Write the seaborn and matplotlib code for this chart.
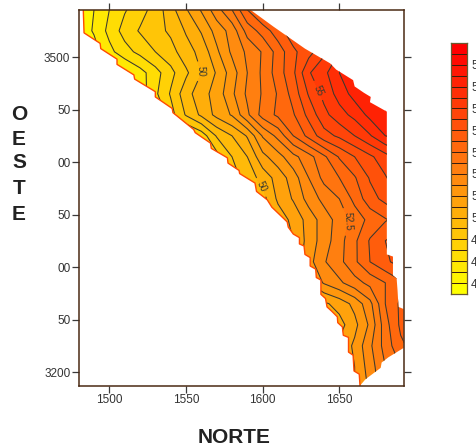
import numpy as np
import matplotlib
matplotlib.use('Agg')
import matplotlib.pyplot as plt
import seaborn as sns

sns.set_theme(style='ticks')
plt.rcParams['font.family'] = ['Liberation Sans', 'DejaVu Sans']

# survey grid, values
norte = [1480, 1490, 1500, 1510, 1520, 1530, 1540, 1550, 1560, 1570, 1580, 1590,
         1600, 1610, 1620, 1630, 1640, 1650, 1660, 1670, 1680, 1690, 1700]
oeste = [3545, 3525, 3505, 3485, 3465, 3445, 3425, 3405, 3385, 3365,
         3345, 3325, 3305, 3285, 3265, 3245, 3225, 3205, 3185]
valores = [
    [47.2, 47.5, 48, 48.45, 48.8, 49.2, 49.8, 50.45, 51.05, 51.8, 52.5, 53.5, 54.2, 54.9, 55.5, 56, 56.4, 56.8, 57, 57.2, 57.4, 57.6, 57.8],
    [47.2, 47.55, 48.15, 48.7, 49.05, 49.3, 49.6, 50.05, 50.55, 51.2, 51.7, 52.7, 53.2, 53.8, 54.3, 54.9, 55.5, 56, 56.5, 56.9, 57.2, 57.5, 57.7],
    [47, 47.3, 47.85, 48.3, 48.65, 49, 49.3, 49.8, 50.15, 50.9, 51.6, 52.1, 52.55, 53.2, 53.9, 54.3, 54.9, 55.5, 56, 56.4, 56.8, 57.2, 57.4],
    [46.8, 47, 47.2, 47.4, 47.8, 48.3, 48.85, 49.4, 50, 50.55, 51.25, 52, 52.6, 53.25, 53.9, 54.95, 55.35, 56, 56.4, 56.7, 57, 57.2, 57.4],
    [46.8, 47, 47.2, 47.4, 47.7, 48.4, 49.05, 49.8, 50.3, 50.7, 51.4, 52.1, 52.55, 53.05, 53.7, 54.55, 55.15, 55.7, 56.2, 56.5, 56.8, 57, 57.2],
    [46.8, 47, 47.2, 47.4, 47.6, 47.9, 48.8, 49.55, 50.1, 50.65, 51.05, 51.9, 52.7, 53.1, 53.45, 54.15, 54.85, 55.3, 55.65, 56.15, 56.4, 56.6, 56.8],
    [46.8, 47, 47.2, 47.4, 47.6, 47.8, 48, 48.3, 48.7, 49.55, 50, 50.55, 51.55, 52.15, 53, 53.65, 54.3, 54.6, 55, 55.45, 56, 56.2, 56.4],
    [47, 47.2, 47.4, 47.6, 47.7, 47.8, 48, 48.2, 48.3, 48.8, 49.5, 50, 50.85, 51.3, 51.85, 52.3, 52.9, 53.55, 54, 54.4, 54.8, 55.2, 55.5],
    [47, 47.2, 47.4, 47.6, 47.8, 48, 48.2, 48.3, 48.5, 48.9, 49.3, 49.7, 50.2, 50.7, 51.25, 52, 52.65, 53, 53.45, 54.05, 54.45, 54.9, 55.2],
    [47, 47.2, 47.4, 47.6, 47.8, 48, 48.2, 48.4, 48.7, 49, 49.3, 49.5, 49.8, 50.6, 51.05, 51.7, 52.15, 52.5, 53.15, 53.8, 54.15, 54.65, 54.9],
    [47.2, 47.4, 47.6, 47.8, 48, 48.2, 48.4, 48.6, 48.8, 49.1, 49.4, 49.6, 49.9, 50.2, 50.65, 51.2, 51.75, 52.2, 52.7, 53.15, 53.45, 53.75, 54],
    [47.4, 47.6, 47.8, 48, 48.2, 48.4, 48.6, 48.8, 49, 49.2, 49.5, 49.8, 50, 50.2, 50.5, 51.2, 51.75, 52.3, 52.9, 53.55, 54, 54.3, 54.5],
    [47.6, 47.8, 48, 48.2, 48.4, 48.6, 48.8, 49, 49.2, 49.4, 49.6, 49.8, 50.1, 50.3, 50.6, 51.3, 51.95, 52.35, 52.9, 53.5, 53.9, 54.2, 54.4],
    [47.8, 48, 48.2, 48.4, 48.6, 48.8, 49, 49.2, 49.4, 49.6, 49.8, 50, 50.2, 50.4, 50.5, 51, 51.55, 51.9, 52.3, 52.65, 53, 53.4, 53.7],
    [48, 48.2, 48.4, 48.6, 48.8, 49, 49.2, 49.4, 49.6, 49.8, 50, 50.1, 50.15, 50.2, 50.25, 50.3, 50.4, 50.7, 51.15, 51.85, 53, 53.6, 53.8],
    [48.2, 48.4, 48.6, 48.8, 49, 49.2, 49.4, 49.6, 49.8, 49.9, 50, 50, 50.05, 50.1, 50.1, 50.15, 50.2, 50.3, 50.85, 51.6, 52.8, 53.6, 53.8],
    [48.4, 48.6, 48.8, 49, 49.2, 49.4, 49.6, 49.8, 49.9, 50, 50.1, 50.2, 50.2, 50.3, 50.3, 50.4, 50.5, 50.6, 51.1, 51.9, 52.7, 53.4, 53.7],
    [48.4, 48.6, 48.8, 49, 49.2, 49.4, 49.6, 49.8, 49.9, 50, 50.1, 50.2, 50.2, 50.3, 50.3, 50.4, 50.45, 50.5, 51, 51.75, 52.5, 53, 53.2],
    [48.4, 48.6, 48.8, 49, 49.2, 49.4, 49.6, 49.8, 49.9, 50, 50.1, 50.2, 50.2, 50.3, 50.3, 50.4, 50.45, 50.5, 51, 51.6, 52.4, 53, 53.2],
]

# limit of the surveyed area (north, west), the SW side comes first
borde_norte = [1483, 1483.5, 1494, 1494.4, 1505, 1505, 1516, 1516.5, 1530, 1530, 1541, 1541.5,
               1555, 1556, 1566, 1566.5, 1577, 1577.4, 1584.6, 1585, 1595, 1596, 1603, 1606,
               1616, 1616.7, 1620, 1624, 1624, 1627, 1627.6, 1631, 1631, 1634.6, 1635, 1638,
               1638, 1641, 1642, 1645, 1648.7, 1649, 1652, 1652.6, 1656, 1656, 1659, 1659.6,
               1663, 1663.5,
               1667, 1677, 1677.6, 1682, 1692, 1692, 1688.6, 1688, 1687.4, 1685, 1685, 1681,
               1681, 1670, 1670.5, 1666, 1660, 1659, 1648, 1644, 1627.6, 1607, 1592]
borde_oeste = [3545, 3523, 3513, 3508, 3498, 3493, 3483, 3479, 3467, 3462, 3451, 3447,
               3431, 3428, 3418, 3413, 3404, 3399, 3392, 3389, 3380, 3372, 3364, 3357,
               3343, 3338, 3331.4, 3328, 3322, 3320, 3312, 3309, 3301, 3298, 3290, 3287.6,
               3274, 3270, 3262, 3258, 3252.6, 3247, 3243, 3235, 3233, 3219, 3216, 3201,
               3198, 3187,
               3193, 3204, 3209, 3214, 3223, 3260, 3262, 3277.5, 3289, 3292, 3310, 3312,
               3448, 3457, 3462, 3466, 3472, 3478, 3488, 3494, 3508, 3529, 3545]
n_sw = 50

niveles = np.arange(46.5, 58.5, 0.5)
ticks_x = [1500, 1550, 1600, 1650]
ticks_y = [3200, 3250, 3300, 3350, 3400, 3450, 3500]
labels_y = ['3200', '50', '00', '50', '00', '50', '3500']
ticks_cb = [47, 48, 49, 50, 51, 52, 53, 54, 55, 56, 57]

colores = sns.blend_palette(['#FFFF00', '#FF8010', '#FF0000'], n_colors=len(niveles) - 1)

fig = plt.figure(figsize=(4.76, 4.48), dpi=100)
ax = fig.add_axes([0.1653, 0.1384, 0.6828, 0.8393])

borde = plt.Polygon(np.column_stack([borde_norte, borde_oeste]), facecolor='none', edgecolor='none')
ax.add_patch(borde)

relleno = ax.contourf(norte, oeste, valores, levels=niveles, colors=colores)
relleno.set_clip_path(borde)
lineas = ax.contour(norte, oeste, valores, levels=niveles, colors='#3a3a30', linewidths=0.75)
lineas.set_clip_path(borde)
ax.clabel(lineas, fmt='%g', fontsize=7, colors='#3a3a30',
          manual=[(1559, 3486), (1598, 3375), (1657, 3343), (1636, 3468)])

ax.plot(borde_norte[:n_sw], borde_oeste[:n_sw], color='#FF4A00', lw=1.0)

ax.set_xlim(1480, 1692)
ax.set_ylim(3186.7, 3544.8)
ax.set_xticks(ticks_x)
ax.set_yticks(ticks_y)
ax.set_yticklabels(labels_y)
ax.tick_params(top=True, right=True, length=5, width=0.9, pad=1, labelsize=8.5,
               color='#3a3a3a', labelcolor='#333333')
for lado in ax.spines:
    ax.spines[lado].set_color('#4a2a14')
    ax.spines[lado].set_linewidth(1.1)

# colour scale
cax = fig.add_axes([0.9475, 0.3438, 0.0336, 0.5603])
medios = (niveles[:-1] + 0.25)[::-1].reshape(-1, 1)
sns.heatmap(medios, ax=cax, cmap=matplotlib.colors.ListedColormap(colores),
            vmin=niveles[0], vmax=niveles[-1], cbar=False, linewidths=0.5,
            linecolor='#3a2010', xticklabels=False, yticklabels=False)
for lado in cax.spines:
    cax.spines[lado].set_visible(True)
    cax.spines[lado].set_color('#6a5a30')
    cax.spines[lado].set_linewidth(0.9)
cax.yaxis.tick_right()
cax.set_yticks([(niveles[-1] - t) / 0.5 for t in ticks_cb])
cax.set_yticklabels([str(t) for t in ticks_cb], rotation=0)
cax.tick_params(axis='y', length=0, pad=3, labelsize=8.5, labelcolor='#333333')

# axis titles
fig.text(0.4916, 0.0225, 'NORTE', ha='center', va='center', fontsize=15, fontweight='bold', color='#222222')
for letra, y in zip('OESTE', [114, 139, 163, 189, 214]):
    fig.text(0.04, 1 - y / 448, letra, ha='center', va='center', fontsize=15, fontweight='bold', color='#222222')

fig.savefig('out.png', dpi=100)
